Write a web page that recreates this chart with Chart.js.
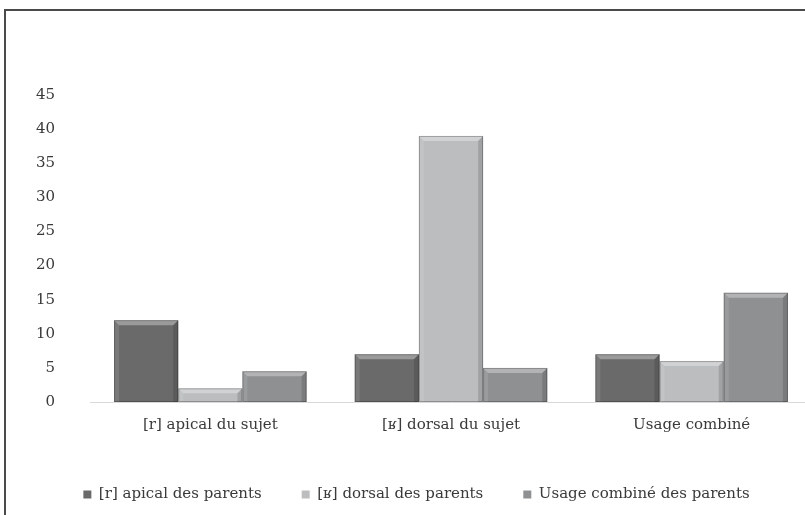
<!DOCTYPE html>
<html>
<head>
<meta charset="utf-8">
<script src="https://cdn.jsdelivr.net/npm/chart.js@4/dist/chart.umd.min.js"></script>
<style>
  html, body { margin: 0; padding: 0; background: #fff; overflow: hidden; }
  #frame {
    position: absolute; left: 4px; top: 9px;
    width: 822px; height: 504px;
    border-left: 2px solid #4a4a4a; border-top: 2px solid #4a4a4a;
  }
  #wrap { position: relative; width: 822px; height: 504px; }
</style>
</head>
<body>
<div id="frame"><div id="wrap"><canvas id="myChart"></canvas></div></div>
<script>
const categories = ['[r] apical du sujet', '[ʁ] dorsal du sujet', 'Usage combiné'];
const seriesNames = ['[r] apical des parents', '[ʁ] dorsal des parents', 'Usage combiné des parents'];
const apicalParents = [12, 7, 7];
const dorsalParents = [2, 39, 6];
const combinedParents = [4.5, 5, 16];
const yTicks = [0, 5, 10, 15, 20, 25, 30, 35, 40, 45];

const colors = ['#6a6a6a', '#bcbdbf', '#8f9092'];
const edges = ['#555555', '#a4a5a7', '#77787a'];

// bevel look of the bars, drawn over each bar element
const bevel = {
  id: 'bevel',
  afterDatasetsDraw(chart) {
    const ctx = chart.ctx;
    chart.data.datasets.forEach((ds, i) => {
      const meta = chart.getDatasetMeta(i);
      meta.data.forEach((bar) => {
        const l = bar.x - bar.width / 2;
        const r = bar.x + bar.width / 2;
        const t = bar.y;
        const btm = bar.base;
        const b = Math.min(5, (btm - t) / 2);
        ctx.save();
        ctx.fillStyle = 'rgba(255,255,255,0.32)';
        ctx.beginPath();
        ctx.moveTo(l, t); ctx.lineTo(r, t); ctx.lineTo(r - b, t + b); ctx.lineTo(l + b, t + b);
        ctx.closePath(); ctx.fill();
        ctx.fillStyle = 'rgba(255,255,255,0.10)';
        ctx.beginPath();
        ctx.moveTo(l, t); ctx.lineTo(l + b, t + b); ctx.lineTo(l + b, btm); ctx.lineTo(l, btm);
        ctx.closePath(); ctx.fill();
        ctx.fillStyle = 'rgba(0,0,0,0.14)';
        ctx.beginPath();
        ctx.moveTo(r, t); ctx.lineTo(r - b, t + b); ctx.lineTo(r - b, btm); ctx.lineTo(r, btm);
        ctx.closePath(); ctx.fill();
        ctx.strokeStyle = 'rgba(0,0,0,0.25)';
        ctx.lineWidth = 1;
        ctx.strokeRect(l + 0.5, t + 0.5, r - l - 1, btm - t - 1);
        ctx.restore();
      });
    });
  }
};

const ctx = document.getElementById('myChart').getContext('2d');
new Chart(ctx, {
  type: 'bar',
  data: {
    labels: categories,
    datasets: [apicalParents, dorsalParents, combinedParents].map((values, i) => ({
      label: seriesNames[i],
      data: values,
      backgroundColor: colors[i],
      borderColor: edges[i],
      borderWidth: 0,
      barPercentage: 1,
      categoryPercentage: 0.8
    }))
  },
  options: {
    responsive: true,
    maintainAspectRatio: false,
    animation: false,
    layout: { padding: { left: 15, right: 16, top: 84, bottom: 3 } },
    scales: {
      x: {
        grid: { display: false, drawTicks: false },
        border: { display: true, color: '#d9d9d9', width: 1 },
        ticks: { color: '#3a3a3a', padding: 14, font: { family: 'DejaVu Serif', size: 15 } },
        afterFit: (scale) => { scale.height = 45; }
      },
      y: {
        min: 0,
        max: 45,
        afterBuildTicks: (scale) => { scale.ticks = yTicks.map(v => ({ value: v })); },
        afterFit: (scale) => { scale.width = 69; },
        grid: { display: false, drawTicks: false },
        border: { display: false },
        ticks: { color: '#3a3a3a', padding: 35, font: { family: 'DejaVu Serif', size: 15 } }
      }
    },
    plugins: {
      legend: {
        position: 'bottom',
        labels: {
          boxWidth: 8,
          boxHeight: 8,
          padding: 40,
          color: '#3a3a3a',
          font: { family: 'DejaVu Serif', size: 15 }
        }
      },
      tooltip: { enabled: false }
    }
  },
  plugins: [bevel]
});
</script>
</body>
</html>
